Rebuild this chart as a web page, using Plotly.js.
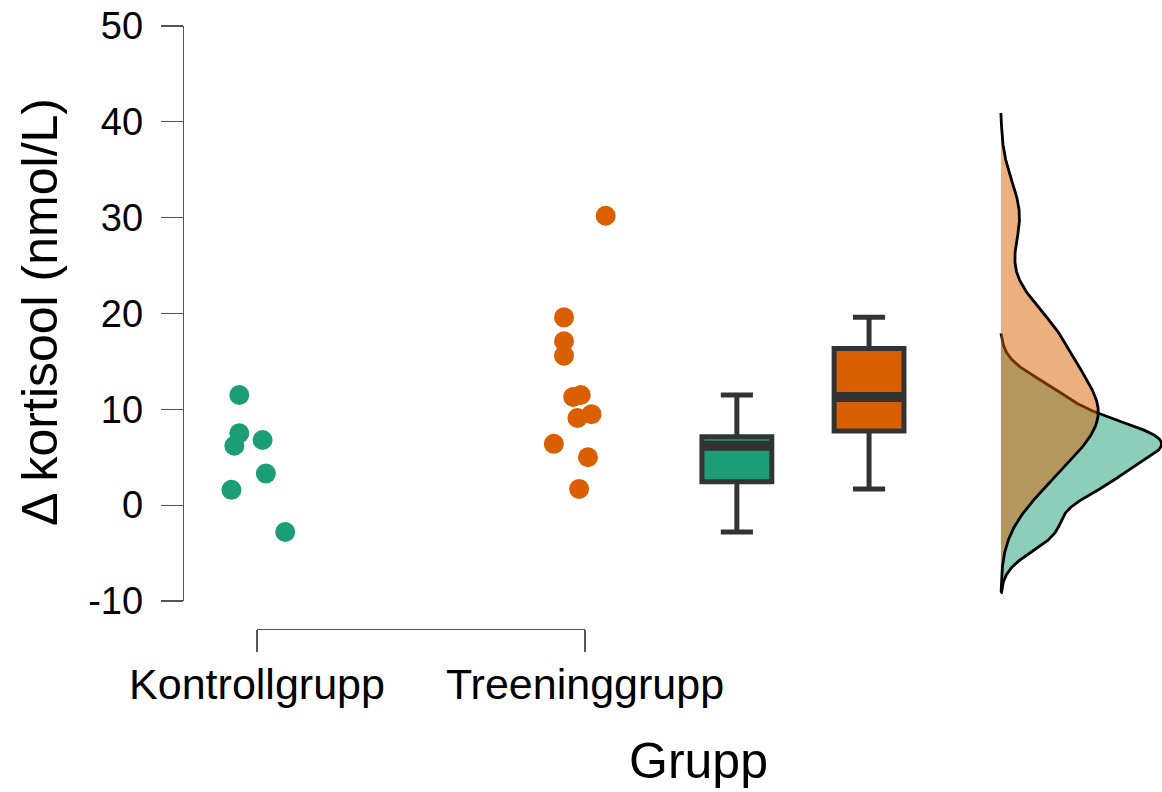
<!DOCTYPE html>
<html>
<head>
<meta charset="utf-8">
<script src="https://cdn.plot.ly/plotly-3.0.1.min.js"></script>
<style>html,body{margin:0;padding:0;background:#fff}#chart{width:1162px;height:792px}</style>
</head>
<body>
<div id="chart"></div>
<script>
// ---- data ----
const categories = ['Kontrollgrupp', 'Treeninggrupp'];
const kontrollValues = [11.5, 7.5, 6.2, 6.8, 3.3, 1.6, -2.8];
const kontrollJitter = [-0.054, -0.054, -0.069, 0.017, 0.027, -0.078, 0.086];
const treeningValues = [30.2, 19.6, 17.1, 15.6, 11.3, 11.5, 9.5, 9.1, 6.4, 5.0, 1.7];
const treeningJitter = [0.063, -0.064, -0.064, -0.064, -0.036, -0.013, 0.020, -0.023, -0.095, 0.009, -0.018];
const yTickVals = [-10, 0, 10, 20, 30, 40, 50];
const yTickText = ['-10', '0', '10', '20', '30', '40', '50'];
const xTitle = 'Grupp';
const yTitle = 'Δ kortisool (nmol/L)';

// ---- style / layout constants ----
const colors = ['#1b9e77', '#d95f02'];
const densFill = ['rgba(27,158,119,0.5)', 'rgba(217,95,2,0.5)'];
const boxPos = [2.463, 2.866];
const boxWidth = 0.213;
const densBase = 3.268;
const densScale = 5.5;
const FONT = 'Liberation Sans, Arial, Helvetica, sans-serif';
const AX = '#555555';

// ---- statistics derived from the data ----
function quantile(sorted, p) {
  const h = (sorted.length - 1) * p, lo = Math.floor(h), hi = Math.ceil(h);
  return sorted[lo] + (h - lo) * (sorted[hi] - sorted[lo]);
}
function boxStats(vals) {
  const s = vals.slice().sort((a, b) => a - b);
  const q1 = quantile(s, 0.25), med = quantile(s, 0.5), q3 = quantile(s, 0.75);
  const iqr = q3 - q1;
  const lf = Math.min(...s.filter(v => v >= q1 - 1.5 * iqr));
  const uf = Math.max(...s.filter(v => v <= q3 + 1.5 * iqr));
  return {q1, med, q3, lf, uf};
}
function kde(vals) {
  const n = vals.length;
  const s = vals.slice().sort((a, b) => a - b);
  const mean = s.reduce((a, b) => a + b, 0) / n;
  const sd = Math.sqrt(s.reduce((a, b) => a + (b - mean) * (b - mean), 0) / (n - 1));
  const iqr = quantile(s, 0.75) - quantile(s, 0.25);
  const bw = 0.9 * Math.min(sd, iqr / 1.34) * Math.pow(n, -0.2);
  const lo = s[0] - 3 * bw, hi = s[n - 1] + 3 * bw;
  const ys = [], ds = [];
  const N = 512;
  for (let i = 0; i < N; i++) {
    const y = lo + (hi - lo) * i / (N - 1);
    let d = 0;
    for (const v of s) { const z = (y - v) / bw; d += Math.exp(-0.5 * z * z); }
    ys.push(y); ds.push(d / (n * bw * Math.sqrt(2 * Math.PI)));
  }
  return {ys, ds, lo, hi};
}

const groups = [
  {vals: kontrollValues, jit: kontrollJitter},
  {vals: treeningValues, jit: treeningJitter}
];

const traces = [];
// anchor trace for the category axis (drawn first, invisible)
traces.push({type: 'scatter', mode: 'markers', x: [1, 2], y: [null, null], xaxis: 'x2', yaxis: 'y',
  hoverinfo: 'skip', showlegend: false});
// densities (green first, orange on top)
groups.forEach((g, i) => {
  const k = kde(g.vals);
  const x = [densBase].concat(k.ds.map(d => densBase + d * densScale), [densBase]);
  const y = [k.lo].concat(k.ys, [k.hi]);
  traces.push({type: 'scatter', mode: 'lines', x, y, fill: 'toself', fillcolor: densFill[i],
    line: {color: '#000', width: 2.8, shape: 'linear'}, hoverinfo: 'skip', showlegend: false,
    xaxis: 'x', yaxis: 'y'});
});
// jittered points
groups.forEach((g, i) => {
  traces.push({type: 'scatter', mode: 'markers', x: g.vals.map((v, j) => (i + 1) + g.jit[j]), y: g.vals,
    marker: {color: colors[i], size: 20, line: {width: 0}}, hoverinfo: 'skip', showlegend: false,
    cliponaxis: false, xaxis: 'x', yaxis: 'y'});
});
// boxes
groups.forEach((g, i) => {
  const b = boxStats(g.vals);
  traces.push({type: 'box', x: [boxPos[i]], q1: [b.q1], median: [b.med], q3: [b.q3],
    lowerfence: [b.lf], upperfence: [b.uf], width: boxWidth, whiskerwidth: 0.46,
    fillcolor: colors[i], line: {color: '#333333', width: 5}, boxpoints: false,
    hoverinfo: 'skip', showlegend: false, xaxis: 'x', yaxis: 'y'});
  traces.push({type: 'scatter', mode: 'lines', x: [boxPos[i] - boxWidth / 2, boxPos[i] + boxWidth / 2],
    y: [b.med, b.med], line: {color: '#333333', width: 10}, hoverinfo: 'skip', showlegend: false,
    xaxis: 'x', yaxis: 'y'});
});

const plotL = 184, plotR = 1162, plotT = 26, plotB = 629;
const pxPerUnit = 328, cat1Px = 257;
const xL = 1 - (cat1Px - plotL) / pxPerUnit;
const xR = 1 + (plotR - cat1Px) / pxPerUnit;
const plotW = plotR - plotL, plotH = plotB - plotT;

const layout = {
  width: 1162, height: 792,
  margin: {l: plotL, r: 1162 - plotR, t: plotT, b: 792 - plotB, pad: 0},
  paper_bgcolor: '#ffffff', plot_bgcolor: 'rgba(0,0,0,0)',
  showlegend: false, hovermode: false,
  font: {family: FONT, color: '#000000'},
  xaxis: {domain: [0, 1], range: [xL, xR], visible: false, fixedrange: true},
  xaxis2: {domain: [(cat1Px - plotL) / plotW, (cat1Px + pxPerUnit - plotL) / plotW], range: [1, 2],
    anchor: 'free', position: 0, tickmode: 'array', tickvals: [1, 2], ticktext: categories,
    ticks: 'outside', ticklen: 22, tickwidth: 1.3, tickcolor: AX, showline: true, linecolor: AX,
    linewidth: 1.3, showgrid: false, zeroline: false, tickfont: {size: 43, family: FONT, color: '#000'},
    ticklabelstandoff: -5, fixedrange: true},
  yaxis: {domain: [(plotB - 601) / plotH, 1], range: [-10, 50], tickmode: 'array', tickvals: yTickVals,
    ticktext: yTickText,
    ticks: 'outside', ticklen: 22, tickwidth: 1.3, tickcolor: AX, showline: true, linecolor: AX,
    linewidth: 1.3, showgrid: false, zeroline: false, tickfont: {size: 38, family: FONT, color: '#000'},
    ticklabelstandoff: 10, fixedrange: true},
  annotations: [
    {text: xTitle, xref: 'paper', yref: 'paper', x: (698 - plotL) / plotW, y: (plotB - 761) / plotH,
      xanchor: 'center', yanchor: 'middle', showarrow: false, font: {size: 50, family: FONT, color: '#000'}},
    {text: yTitle, xref: 'paper', yref: 'paper', x: (40 - plotL) / plotW, y: (plotB - 312) / plotH,
      xanchor: 'center', yanchor: 'middle', textangle: -90, showarrow: false,
      font: {size: 50, family: FONT, color: '#000'}}
  ]
};

Plotly.newPlot('chart', traces, layout, {displayModeBar: false, staticPlot: true});
</script>
</body>
</html>
